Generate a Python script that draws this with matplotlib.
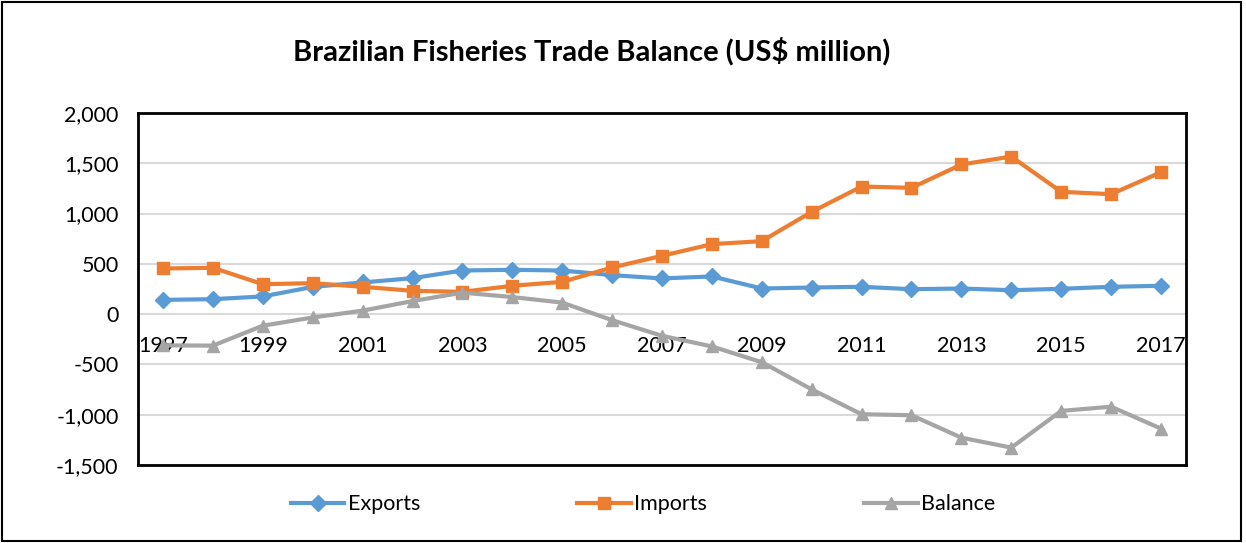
import matplotlib.pyplot as plt
from matplotlib.patches import Rectangle
from matplotlib.ticker import FuncFormatter, MultipleLocator

plt.rcParams['font.family'] = ['Lato', 'DejaVu Sans']

# values in US$ million
years = list(range(1997, 2018))
exports = [142, 149, 176, 271, 315, 358, 434, 441, 434, 388, 355,
           375, 255, 265, 272, 248, 255, 238, 252, 272, 282]
imports = [454, 461, 298, 308, 272, 232, 222, 282, 321, 464, 580,
           696, 726, 1017, 1269, 1256, 1488, 1567, 1216, 1193, 1411]
balance = [-310, -313, -115, -33, 35, 130, 214, 170, 115, -60, -215,
           -321, -478, -748, -995, -1005, -1228, -1327, -962, -920, -1138]

series = [
    ("Exports", exports, "#5B9BD5", "D", 8),
    ("Imports", imports, "#ED7D31", "s", 9),
    ("Balance", balance, "#A5A5A5", "^", 9),
]

fig = plt.figure(figsize=(12.46, 5.43), dpi=100)
ax = fig.add_axes([0.1108, 0.1436, 0.8410, 0.6483])

x = list(range(len(years)))
for name, vals, color, marker, ms in series:
    ax.plot(x, vals, color=color, lw=3, marker=marker, markersize=ms,
            label=name, zorder=3)

ax.set_xlim(-0.5, len(years) - 0.5)
ax.set_ylim(-1500, 2000)
ax.yaxis.set_major_locator(MultipleLocator(500))
ax.yaxis.set_major_formatter(FuncFormatter(lambda v, p: f"{v:,.0f}"))
ax.grid(axis="y", color="#D9D9D9", lw=1.5, zorder=0)
ax.set_xticks([])
ax.tick_params(axis="y", length=0, pad=14, labelsize=15.5)

for sp in ax.spines.values():
    sp.set_linewidth(2)
    sp.set_color("black")

# category labels sit under the zero line (every other year)
for i, yr in enumerate(years):
    if i % 2 == 0:
        ax.annotate(str(yr), (i, 0), xytext=(0, -23), textcoords="offset points",
                    ha="center", va="center", fontsize=15.5, zorder=2)

fig.text(0.475, 0.905, "Brazilian Fisheries Trade Balance (US$ million)",
         ha="center", va="center", fontsize=21, fontweight="bold")

ax.legend(loc="center", bbox_to_anchor=(0.482, -0.111), ncol=3, frameon=False,
          fontsize=15.5, columnspacing=7.3, handlelength=2.5, handletextpad=0.15)

fig.patches.append(Rectangle((0.002, 0.004), 0.994, 0.992, transform=fig.transFigure,
                             fill=False, edgecolor="black", lw=1.5))

fig.savefig("out.png", dpi=100)
